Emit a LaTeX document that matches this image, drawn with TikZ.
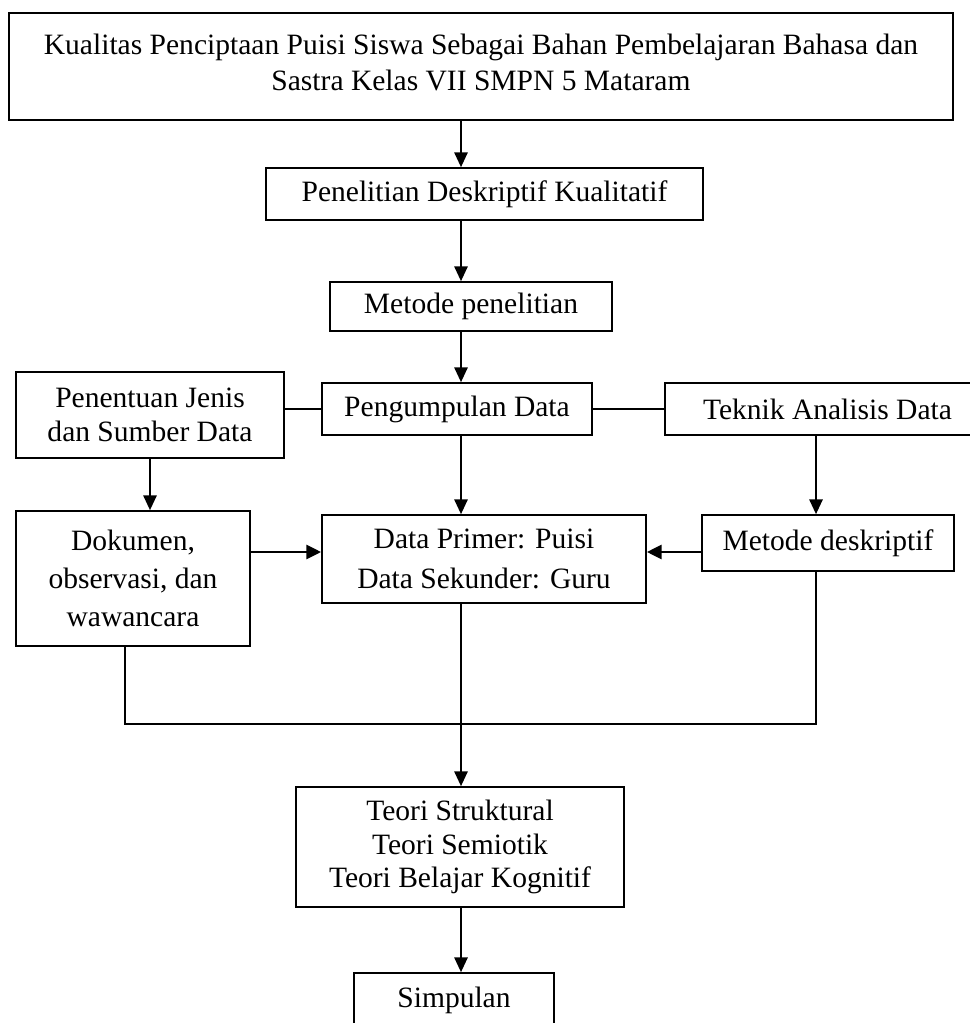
\documentclass[tikz,border=0pt]{standalone}
\usepackage{fontspec}
\setmainfont{Liberation Serif}
\usetikzlibrary{arrows.meta}

\begin{document}
\begin{tikzpicture}[x=0.025cm, y=-0.025cm,
    box/.style={draw, line width=1.2pt, inner sep=0pt, align=center,
                font=\fontsize{21}{24}\selectfont},
    arr/.style={-{Triangle[length=10.5pt,width=9.5pt]}, line width=1.2pt},
    thickarr/.style={-{Triangle[length=10.5pt,width=10pt]}, line width=2pt},
    link/.style={line width=1.2pt}]
  \clip (0,0) rectangle (970,1023);
  \fill[white] (0,0) rectangle (970,1023);

  % boxes
  \node (title) at (481,66.5) [box, minimum width=23.6cm, minimum height=2.675cm]
    {Kualitas Penciptaan Puisi Siswa Sebagai Bahan Pembelajaran Bahasa dan\\[1pt] Sastra Kelas VII SMPN 5 Mataram\\[-18pt]};
  \node (pene) at (484.5,194) [box, minimum width=10.925cm, minimum height=1.3cm] {Penelitian Deskriptif Kualitatif};
  \node (metode) at (471,306.5) [box, minimum width=7.05cm, minimum height=1.225cm] {Metode penelitian};
  \node (kumpul) at (457,409) [box, minimum width=6.75cm, minimum height=1.3cm] {Pengumpulan Data};
  \node (jenis) at (150,415) [box, minimum width=6.7cm, minimum height=2.15cm] {Penentuan Jenis\\ dan Sumber Data};
  \node (teknik) at (827.5,409) [box, minimum width=8.125cm, minimum height=1.3cm] {Teknik Analisis Data};
  \node (dokumen) at (133,578.5) [box, minimum width=5.85cm, minimum height=3.375cm] {Dokumen,\\[3pt] observasi, dan\\[3pt] wawancara};
  \node (data) at (484,559) [box, minimum width=8.1cm, minimum height=2.2cm] {Data Primer: Puisi\\[4pt] Data Sekunder: Guru};
  \node (deskriptif) at (828,543) [box, minimum width=6.3cm, minimum height=1.4cm] {Metode deskriptif};
  \node (teori) at (460,847) [box, minimum width=8.2cm, minimum height=3cm] {Teori Struktural\\ Teori Semiotik\\ Teori Belajar Kognitif};
  \node (simpulan) at (454,1000.5) [box, minimum width=5cm, minimum height=1.375cm] {Simpulan};

  % helper points
  \coordinate (spine) at (461,0);
  \coordinate (row) at (0,552);
  \coordinate (left) at (125,724);
  \coordinate (right) at (816,724);

  % connectors
  \draw[arr] (title.south -| spine) -- (pene.north -| spine);
  \draw[arr] (pene.south -| spine) -- (metode.north -| spine);
  \draw[arr] (metode.south -| spine) -- (kumpul.north -| spine);
  \draw[link] (jenis.east |- kumpul.west) -- (kumpul.west);
  \draw[link] (kumpul.east) -- (teknik.west |- kumpul.east);
  \draw[arr] (jenis.south) -- (dokumen.north -| jenis.south);
  \draw[arr] (kumpul.south -| spine) -- (data.north -| spine);
  \draw[arr] (teknik.south -| right) -- (deskriptif.north -| right);
  \draw[thickarr] (dokumen.east |- row) -- (data.west |- row);
  \draw[thickarr] (deskriptif.west |- row) -- (data.east |- row);
  \draw[link] (dokumen.south -| left) -- (left) -- (right) -- (deskriptif.south -| right);
  \draw[arr] (data.south -| spine) -- (teori.north -| spine);
  \draw[arr] (teori.south -| spine) -- (simpulan.north -| spine);
\end{tikzpicture}
\end{document}
